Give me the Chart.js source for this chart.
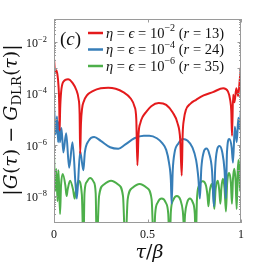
<!DOCTYPE html>
<html>
<head>
<meta charset="utf-8">
<script src="https://cdn.jsdelivr.net/npm/chart.js@4.4.1/dist/chart.umd.min.js"></script>
<style>
  html, body { margin: 0; padding: 0; background: #fff; }
  #errChart { display: block; }
</style>
</head>
<body>
<canvas id="errChart" width="266" height="266"></canvas>
<script>
// DLR error |G(tau) - G_DLR(tau)| for three tolerances
const seriesColors = ['#e41a1c', '#377eb8', '#4daf4a'];
const legendExps = ['−2', '−4', '−6'];
const legendRanks = ['13', '24', '35'];

// [tau/beta, error]
const redErr = [
  [0.000, 2.34e-3], [0.006, 6.31e-4], [0.012, 7.94e-4], [0.018, 5.62e-4], [0.024, 2.0e-4],
  [0.028, 3.98e-5], [0.030, 3.55e-6], [0.033, 2.51e-5], [0.038, 1.12e-4], [0.050, 2.82e-4],
  [0.075, 3.55e-4], [0.100, 2.51e-4], [0.120, 1.32e-4], [0.131, 6.31e-5], [0.137, 1.58e-5],
  [0.140, 4.47e-7], [0.144, 6.31e-6], [0.150, 2.51e-5], [0.160, 5.01e-5], [0.176, 8.32e-5],
  [0.210, 1.26e-4], [0.250, 1.58e-4], [0.290, 1.66e-4], [0.330, 1.51e-4], [0.370, 1.12e-4],
  [0.410, 6.31e-5], [0.430, 3.16e-5], [0.440, 1.0e-5], [0.446, 1.58e-7], [0.452, 2.51e-6],
  [0.462, 7.08e-6], [0.475, 1.26e-5], [0.490, 1.78e-5], [0.520, 3.16e-5], [0.560, 4.17e-5],
  [0.600, 3.55e-5], [0.635, 1.78e-5], [0.660, 7.08e-6], [0.675, 1.58e-6], [0.683, 6.31e-8],
  [0.688, 2.51e-6], [0.695, 1.0e-5], [0.705, 2.24e-5], [0.730, 3.98e-5], [0.760, 5.62e-5],
  [0.800, 8.32e-5], [0.850, 1.12e-4], [0.905, 1.58e-4], [0.930, 1.20e-4], [0.942, 5.62e-5],
  [0.948, 2.0e-5], [0.952, 2.24e-6], [0.958, 8.91e-5], [0.965, 4.47e-5], [0.975, 1.58e-4],
  [0.985, 7.94e-5], [0.993, 3.16e-4], [1.000, 1.12e-3]
];

const blueErr = [
  [0.000, 3.39e-5], [0.009, 2.51e-6], [0.016, 1.26e-5], [0.022, 1.26e-6], [0.027, 7.94e-6],
  [0.032, 1.26e-6], [0.040, 4.47e-6], [0.050, 5.01e-7], [0.065, 2.82e-6], [0.081, 1.26e-7],
  [0.099, 1.26e-6], [0.122, 7.94e-9], [0.140, 5.62e-7], [0.157, 1.0e-7], [0.165, 5.01e-7],
  [0.185, 1.41e-6], [0.215, 2.0e-6], [0.250, 1.41e-6], [0.300, 7.94e-7], [0.344, 6.92e-7],
  [0.380, 1.0e-6], [0.430, 1.78e-6], [0.480, 2.24e-6], [0.510, 2.24e-6], [0.550, 1.78e-6],
  [0.580, 1.12e-6], [0.600, 6.31e-7], [0.615, 2.0e-7], [0.625, 3.98e-8], [0.629, 5.01e-9],
  [0.635, 1.0e-7], [0.645, 5.01e-7], [0.665, 1.12e-6], [0.690, 1.66e-6], [0.715, 1.41e-6],
  [0.740, 7.94e-7], [0.760, 2.51e-7], [0.772, 5.01e-8], [0.780, 7.94e-9], [0.788, 1.26e-7],
  [0.800, 5.01e-7], [0.815, 7.08e-7], [0.830, 4.47e-7], [0.845, 1.0e-7], [0.855, 3.98e-9],
  [0.862, 1.26e-7], [0.872, 6.31e-7], [0.885, 8.91e-7], [0.900, 5.01e-7], [0.912, 1.0e-7],
  [0.919, 7.94e-9], [0.925, 5.01e-7], [0.937, 1.66e-6], [0.950, 7.94e-7], [0.957, 2.0e-7],
  [0.967, 5.01e-6], [0.977, 1.26e-6], [0.986, 1.12e-5], [0.992, 3.98e-6], [1.000, 2.51e-5]
];

const greenErr = [
  [0.0000, 4.47e-7], [0.0065, 1.58e-8], [0.0124, 1.12e-7], [0.0188, 6.31e-9], [0.0242, 1.0e-7],
  [0.0323, 2.0e-9], [0.0375, 2.51e-8], [0.0468, 7.24e-8], [0.0610, 2.51e-8], [0.0672, 1.0e-8],
  [0.0730, 1.78e-8], [0.0860, 3.98e-8], [0.1020, 1.78e-8], [0.1100, 7.94e-9], [0.1160, 1.41e-8],
  [0.1306, 3.98e-8], [0.1490, 1.12e-8], [0.1575, 1.0e-10], [0.1630, 1.26e-8], [0.1750, 3.55e-8],
  [0.1935, 5.01e-8], [0.2120, 3.55e-8], [0.2230, 1.26e-8], [0.2285, 1.0e-10], [0.2410, 1.0e-8],
  [0.2670, 2.82e-8], [0.3050, 3.98e-8], [0.3430, 2.82e-8], [0.3690, 1.0e-8], [0.3817, 1.0e-10],
  [0.3940, 7.41e-9], [0.4200, 2.09e-8], [0.4580, 2.95e-8], [0.4960, 2.09e-8], [0.5220, 7.41e-9],
  [0.5339, 1.0e-10], [0.5410, 2.0e-9], [0.5550, 5.62e-9], [0.5760, 7.94e-9], [0.5970, 5.62e-9],
  [0.6110, 2.0e-9], [0.6183, 1.0e-10], [0.6250, 2.51e-9], [0.6380, 7.08e-9], [0.6570, 1.0e-8],
  [0.6760, 7.08e-9], [0.6890, 2.51e-9], [0.6962, 5.01e-10], [0.7010, 2.0e-9], [0.7120, 5.62e-9],
  [0.7270, 7.94e-9], [0.7420, 5.62e-9], [0.7530, 2.0e-9], [0.7580, 1.0e-10], [0.7640, 6.31e-9],
  [0.7750, 2.51e-8], [0.7950, 3.80e-8], [0.8130, 2.51e-8], [0.8210, 1.0e-8], [0.8260, 3.98e-9],
  [0.8320, 1.41e-8], [0.8440, 2.95e-8], [0.8520, 1.26e-8], [0.8575, 3.16e-9], [0.8640, 1.78e-8],
  [0.8763, 3.98e-8], [0.8840, 1.58e-8], [0.8898, 5.01e-9], [0.8950, 2.0e-8], [0.9032, 4.68e-8],
  [0.9120, 2.0e-8], [0.9194, 2.51e-9], [0.9260, 3.16e-8], [0.9371, 7.94e-8], [0.9460, 3.16e-8],
  [0.9516, 5.01e-9], [0.9570, 4.47e-8], [0.9640, 1.15e-7], [0.9710, 3.98e-8], [0.9769, 3.16e-9],
  [0.9820, 7.94e-8], [0.9866, 2.51e-7], [0.9910, 7.94e-8], [0.9946, 1.58e-8], [1.0000, 6.31e-7]
];

const xTicks = [0, 0.5, 1];
const xTickLabels = ['0', '0.5', '1'];
const yTickValues = [1e-2, 1e-4, 1e-6, 1e-8];
const yTickExps = ['−2', '−4', '−6', '−8'];

const SERIF = "'Liberation Serif', 'DejaVu Serif', serif";
const WIDE_SERIF = "'DejaVu Serif', serif";

function toPoints(arr) {
  return arr.map(p => ({ x: p[0], y: p[1] }));
}

// draw a run of text pieces: {t, it, sup, sub}
function drawRuns(ctx, x, y, runs, size, family) {
  let cx = x;
  for (const r of runs) {
    const s = (r.sup || r.sub) ? size * 0.7 : size;
    ctx.font = (r.it ? 'italic ' : '') + s + 'px ' + (family || SERIF);
    let dy = 0;
    if (r.sup) dy = -size * 0.42;
    if (r.sub) dy = size * 0.22;
    ctx.fillText(r.t, cx, y + dy);
    cx += ctx.measureText(r.t).width;
  }
  return cx - x;
}

function runsWidth(ctx, runs, size, family) {
  let w = 0;
  for (const r of runs) {
    const s = (r.sup || r.sub) ? size * 0.7 : size;
    ctx.font = (r.it ? 'italic ' : '') + s + 'px ' + (family || SERIF);
    w += ctx.measureText(r.t).width;
  }
  return w;
}

const decorPlugin = {
  id: 'decor',
  afterDatasetsDraw(chart) {
    const ctx = chart.ctx;
    const a = chart.chartArea;
    const xs = chart.scales.x;
    const ys = chart.scales.y;
    ctx.save();

    // frame
    ctx.strokeStyle = '#9a9a9a';
    ctx.lineWidth = 1;
    ctx.strokeRect(a.left + 0.5, a.top + 0.5, a.right - a.left - 1, a.bottom - a.top - 1);

    // inside ticks on y (log: majors each decade, minors 2..9)
    ctx.beginPath();
    for (let k = -10; k <= -1; k++) {
      for (let m = 1; m <= 9; m++) {
        const v = m * Math.pow(10, k);
        const py = Math.round(ys.getPixelForValue(v)) + 0.5;
        if (py < a.top || py > a.bottom) continue;
        const len = m === 1 ? 3.5 : 2;
        ctx.moveTo(a.left, py); ctx.lineTo(a.left + len, py);
        ctx.moveTo(a.right, py); ctx.lineTo(a.right - len, py);
      }
    }
    // inside ticks on x
    for (const t of xTicks) {
      const px = Math.round(xs.getPixelForValue(t)) + 0.5;
      ctx.moveTo(px, a.bottom); ctx.lineTo(px, a.bottom - 3.5);
      ctx.moveTo(px, a.top); ctx.lineTo(px, a.top + 3.5);
    }
    ctx.stroke();

    ctx.fillStyle = '#111';
    ctx.textBaseline = 'alphabetic';

    // y tick labels 10^k
    yTickValues.forEach((v, i) => {
      const py = ys.getPixelForValue(v);
      const runs = [{ t: '10' }, { t: yTickExps[i], sup: true }];
      const w = runsWidth(ctx, runs, 12);
      drawRuns(ctx, a.left - 7 - w, py + 5, runs, 12);
    });

    // x tick labels
    ctx.font = '12px ' + SERIF;
    ctx.textAlign = 'center';
    xTicks.forEach((t, i) => {
      ctx.fillText(xTickLabels[i], xs.getPixelForValue(t), a.bottom + 15);
    });
    ctx.textAlign = 'left';

    // x title
    const xt = [{ t: 'τ', it: true }, { t: '/' }, { t: 'β', it: true }];
    const xw = runsWidth(ctx, xt, 19, WIDE_SERIF);
    drawRuns(ctx, (a.left + a.right) / 2 + 2 - xw / 2, 258, xt, 19, WIDE_SERIF);

    // y title, rotated
    const yt = [
      { t: '|' }, { t: 'G', it: true }, { t: '(' }, { t: 'τ', it: true }, { t: ') − ' },
      { t: 'G', it: true }, { t: 'DLR', sub: true }, { t: '(' }, { t: 'τ', it: true }, { t: ')|' }
    ];
    const yw = runsWidth(ctx, yt, 19, WIDE_SERIF);
    ctx.save();
    ctx.translate(17, 120);
    ctx.rotate(-Math.PI / 2);
    drawRuns(ctx, -yw / 2, 0, yt, 19, WIDE_SERIF);
    ctx.restore();

    // panel tag
    drawRuns(ctx, 60, 45, [{ t: '(' }, { t: 'c', it: true }, { t: ')' }], 19);

    // legend
    const rowsY = [33, 49.5, 66];
    rowsY.forEach((ly, i) => {
      ctx.strokeStyle = seriesColors[i];
      ctx.lineWidth = 2.5;
      ctx.beginPath();
      ctx.moveTo(88, ly); ctx.lineTo(103, ly);
      ctx.stroke();
      ctx.fillStyle = '#111';
      drawRuns(ctx, 106, ly + 4.5, [
        { t: 'η', it: true }, { t: ' = ' }, { t: 'ϵ', it: true }, { t: ' = 10' },
        { t: legendExps[i], sup: true }, { t: ' (' }, { t: 'r', it: true },
        { t: ' = ' + legendRanks[i] + ')' }
      ], 14.5);
    });

    ctx.restore();
  }
};

new Chart(document.getElementById('errChart'), {
  type: 'line',
  data: {
    datasets: [
      { data: toPoints(redErr), borderColor: seriesColors[0] },
      { data: toPoints(blueErr), borderColor: seriesColors[1] },
      { data: toPoints(greenErr), borderColor: seriesColors[2] }
    ]
  },
  options: {
    responsive: false,
    animation: false,
    parsing: true,
    layout: { padding: { left: 0, top: 19, right: 25, bottom: 0 } },
    elements: {
      point: { radius: 0 },
      line: { borderWidth: 2, cubicInterpolationMode: 'monotone', fill: false }
    },
    plugins: { legend: { display: false }, tooltip: { enabled: false } },
    scales: {
      x: {
        type: 'linear', min: 0, max: 1,
        grid: { display: false }, border: { display: false },
        ticks: { display: false },
        afterFit: s => { s.height = 43; }
      },
      y: {
        type: 'logarithmic', min: 8.9e-10, max: 7.9e-2,
        grid: { display: false }, border: { display: false },
        ticks: { display: false },
        afterFit: s => { s.width = 54; }
      }
    }
  },
  plugins: [decorPlugin]
});
</script>
</body>
</html>
